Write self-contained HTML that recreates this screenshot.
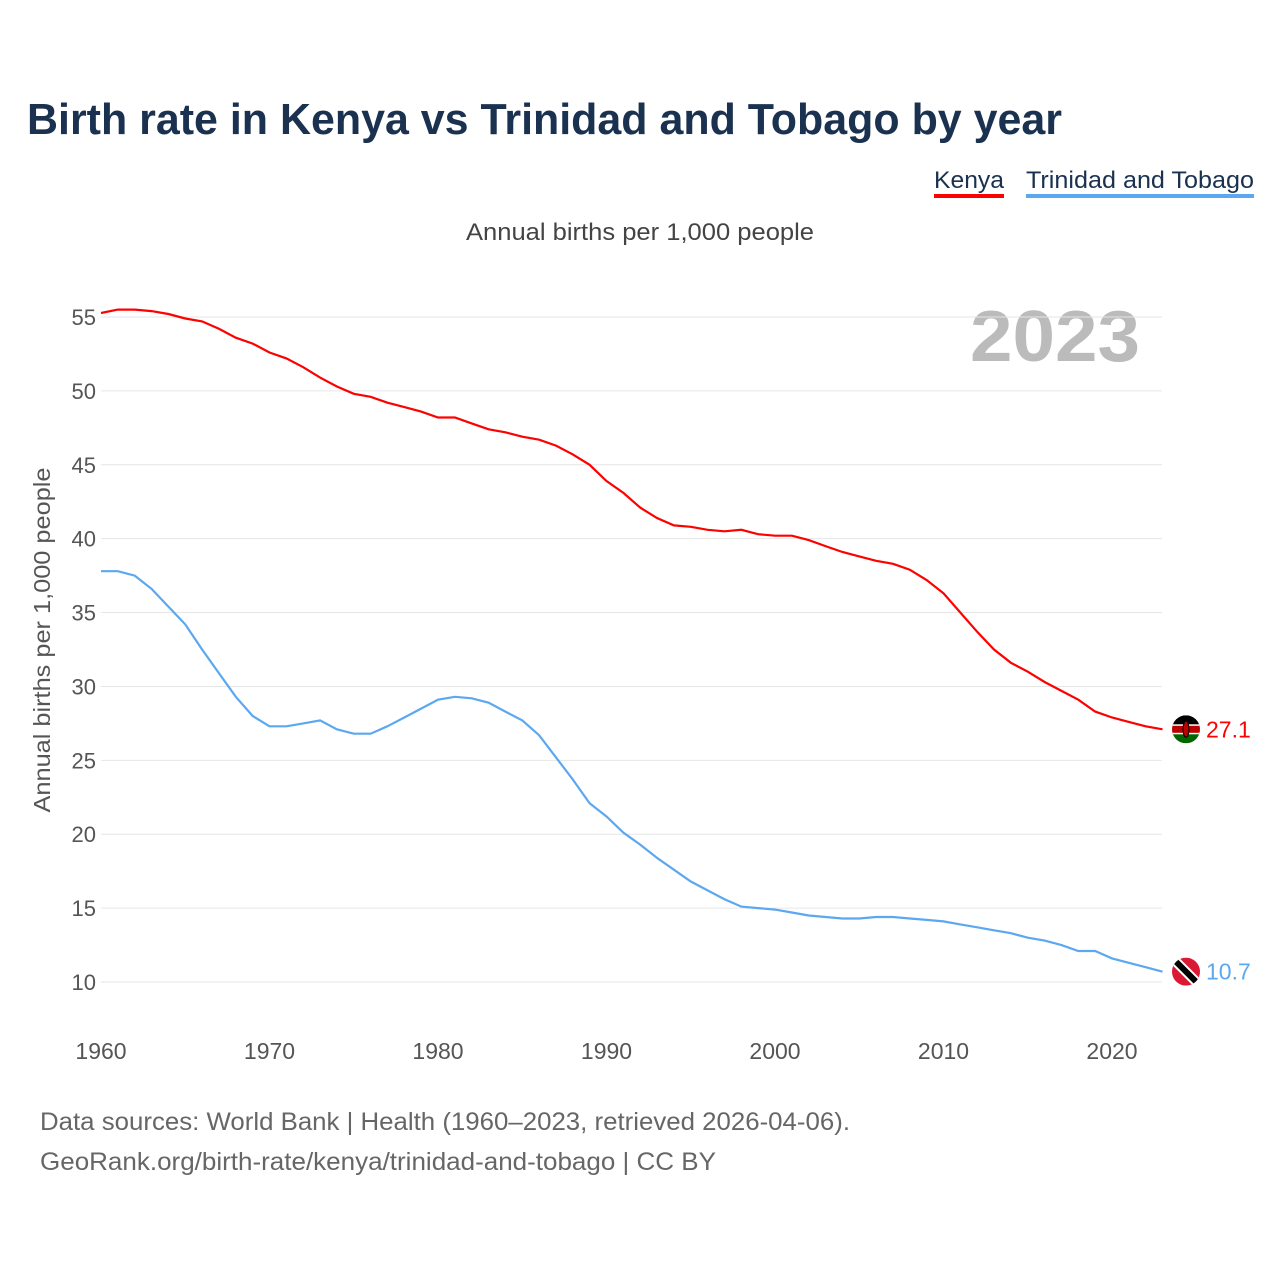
<!DOCTYPE html>
<html><head><meta charset="utf-8"><style>
body{margin:0;background:#fff;font-family:"Liberation Sans",sans-serif}
</style></head><body>
<svg width="1280" height="1280" xmlns="http://www.w3.org/2000/svg" id="c">
<defs>
<clipPath id="ck"><circle cx="1186" cy="0" r="13"/></clipPath>
</defs>
<text x="27" y="134" font-size="44" font-weight="bold" fill="#1a3150" textLength="1035" lengthAdjust="spacingAndGlyphs">Birth rate in Kenya vs Trinidad and Tobago by year</text>
<g><text x="934" y="188" font-size="24" fill="#1a3150" textLength="70" lengthAdjust="spacingAndGlyphs">Kenya</text><rect x="934" y="194" width="70" height="4" fill="#f00"/></g>
<g><text x="1026" y="188" font-size="24" fill="#1a3150" textLength="228" lengthAdjust="spacingAndGlyphs">Trinidad and Tobago</text><rect x="1026" y="194" width="228" height="4" fill="#5ba8f0"/></g>
<text x="466" y="240" font-size="24" fill="#444" textLength="348" lengthAdjust="spacingAndGlyphs">Annual births per 1,000 people</text>
<text x="1140" y="361" font-size="72" font-weight="bold" fill="#bbb" text-anchor="end" textLength="170" lengthAdjust="spacingAndGlyphs">2023</text>
<text transform="translate(50,640) rotate(-90)" font-size="23" fill="#555" text-anchor="middle" textLength="345" lengthAdjust="spacingAndGlyphs">Annual births per 1,000 people</text>
<g id="grid"></g><g id="lines"></g>
<text x="40" y="1130" font-size="25" fill="#666" textLength="810" lengthAdjust="spacingAndGlyphs">Data sources: World Bank | Health (1960–2023, retrieved 2026-04-06).</text>
<text x="40" y="1170" font-size="25" fill="#666" textLength="676" lengthAdjust="spacingAndGlyphs">GeoRank.org/birth-rate/kenya/trinidad-and-tobago | CC BY</text>
</svg>
<script>
const years=[];for(let y=1960;y<=2023;y++)years.push(y);
const kenya=[55.27,55.5,55.5,55.4,55.2,54.9,54.7,54.2,53.6,53.2,52.6,52.2,51.6,50.9,50.3,49.8,49.6,49.2,48.9,48.6,48.2,48.2,47.8,47.4,47.2,46.9,46.7,46.3,45.7,45.0,43.9,43.1,42.1,41.4,40.9,40.8,40.6,40.5,40.6,40.3,40.2,40.2,39.9,39.5,39.1,38.8,38.5,38.3,37.9,37.2,36.3,35.0,33.7,32.5,31.6,31.0,30.3,29.7,29.1,28.3,27.9,27.6,27.3,27.1];
const trinidad=[37.8,37.8,37.5,36.6,35.4,34.2,32.5,30.9,29.3,28.0,27.3,27.3,27.5,27.7,27.1,26.8,26.8,27.3,27.9,28.5,29.1,29.3,29.2,28.9,28.3,27.7,26.7,25.2,23.7,22.1,21.2,20.1,19.3,18.4,17.6,16.8,16.2,15.6,15.1,15.0,14.9,14.7,14.5,14.4,14.3,14.3,14.4,14.4,14.3,14.2,14.1,13.9,13.7,13.5,13.3,13.0,12.8,12.5,12.1,12.1,11.6,11.3,11.0,10.7];
const yTicks=[10,15,20,25,30,35,40,45,50,55];
const xTicks=[1960,1970,1980,1990,2000,2010,2020];
const NS="http://www.w3.org/2000/svg";
const X=v=>101+(v-1960)*1011/60, Y=v=>982-(v-10)*665/45;
function mk(t,a,p){const e=document.createElementNS(NS,t);for(const k in a)e.setAttribute(k,a[k]);p.appendChild(e);return e;}
const g=document.getElementById('grid'),L=document.getElementById('lines'),defs=document.querySelector('defs');
yTicks.forEach(v=>{
 const l=mk('line',{x1:101,x2:1162,y1:Y(v),y2:Y(v),stroke:'#e6e6e6'},g);
 
 
 const t=mk('text',{x:96,y:Y(v)+8,'font-size':22,fill:'#555','text-anchor':'end'},g);t.textContent=v;
 
 
});
xTicks.forEach(v=>{
 const t=mk('text',{x:X(v),y:1059,'font-size':23,fill:'#555','text-anchor':'middle'},g);t.textContent=v;
 
 
});
function line(data,col,name,flag){
 const p=mk('path',{d:data.map((v,i)=>(i?'L':'M')+X(years[i]).toFixed(1)+' '+Y(v).toFixed(1)).join(''),fill:'none',stroke:col,'stroke-width':2.2},L);
 
 
 const last=data[data.length-1], cy=Y(last);
 const cp=mk('clipPath',{id:'cp'+name},defs);mk('circle',{cx:1186,cy:cy,r:14},cp);
 const fg=mk('g',{'clip-path':'url(#cp'+name+')'},L);
 
 
 if(flag==='ke'){
  mk('rect',{x:1172,y:cy-14,width:28,height:10,fill:'#000'},fg);
  mk('rect',{x:1172,y:cy-4,width:28,height:8,fill:'#bb0000'},fg);
  mk('rect',{x:1172,y:cy+4,width:28,height:10,fill:'#006600'},fg);
  mk('rect',{x:1172,y:cy-5,width:28,height:1.5,fill:'#fff'},fg);
  mk('rect',{x:1172,y:cy+3.5,width:28,height:1.5,fill:'#fff'},fg);
  mk('ellipse',{cx:1186,cy:cy,rx:3,ry:8,fill:'#bb0000',stroke:'#000','stroke-width':1},fg);
 } else {
  mk('rect',{x:1172,y:cy-14,width:28,height:28,fill:'#da1a35'},fg);
  mk('line',{x1:1172,y1:cy-14,x2:1200,y2:cy+14,stroke:'#fff','stroke-width':10},fg);
  mk('line',{x1:1172,y1:cy-14,x2:1200,y2:cy+14,stroke:'#000','stroke-width':6},fg);
 }
 const t=mk('text',{x:1206,y:cy+8,'font-size':23,fill:col},L);t.textContent=last.toFixed(1);
 
 
}
line(kenya,'#f00','kenya-line','ke');
line(trinidad,'#5ba8f0','trinidad-line','tt');
</script>
</body></html>
